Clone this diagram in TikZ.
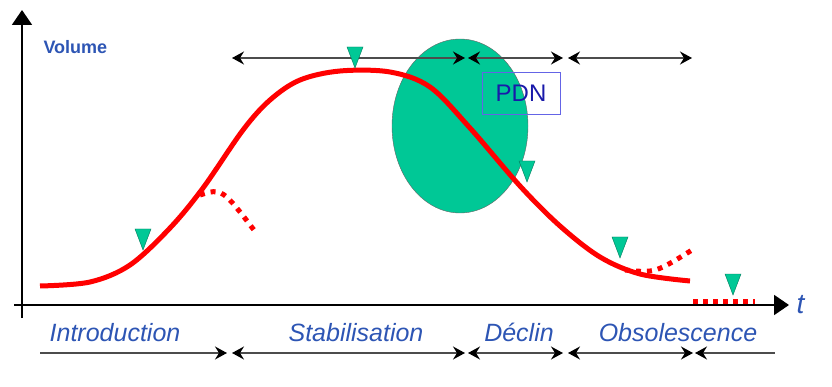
\documentclass[tikz,border=0pt]{standalone}
\usepackage{fontspec}
\setmainfont{Liberation Sans}
\usetikzlibrary{arrows.meta, shapes.geometric}
\definecolor{pgreen}{RGB}{0,200,150}
\definecolor{lblue}{RGB}{45,85,180}
\definecolor{pdnblue}{RGB}{25,25,170}
\definecolor{boxblue}{RGB}{100,100,230}

\begin{document}
\begin{tikzpicture}[x=1pt, y=-1pt,
  >={Stealth[length=12pt,width=13pt,inset=4pt,black]},
  phase/.style={line width=1.4pt, black!70},
  axis/.style={line width=2pt, -{Triangle[length=15pt,width=20pt]}},
  lbl/.style={anchor=base, text=lblue, font=\fontsize{25}{30}\selectfont\itshape},
  trend/.style={red, line width=5pt},
  branch/.style={red, line width=5pt, dash pattern=on 5pt off 6pt}]
  \useasboundingbox (0,0) rectangle (832,387);

  % zone PDN
  \node[ellipse, draw=black!60, thin, fill=pgreen, minimum width=136pt,
    minimum height=174pt] (zone) at (460,126) {};

  % axes
  \coordinate (o) at (22,305);
  \coordinate (ybot) at (22,318);
  \coordinate (ytop) at (22,10);
  \coordinate (xleft) at (14,305);
  \coordinate (xright) at (789,305);
  \draw[axis] (ybot) -- (ytop);
  \draw[axis] (xleft) -- (xright);
  \node[anchor=base west, text=lblue, font=\fontsize{18}{22}\selectfont\bfseries]
    (vol) at (40,54) {Volume};
  \node[anchor=base west, text=lblue, font=\fontsize{28}{32}\selectfont\itshape]
    (t) at (793,313) {t};

  % phases en haut
  \foreach \n/\x in {t1/232,t2/465,t3/468,t4/563,t5/568,t6/692}
    \coordinate (\n) at (\x,58);
  \draw[phase, <->] (t1) -- (t2);
  \draw[phase, <->] (t3) -- (t4);
  \draw[phase, <->] (t5) -- (t6);

  % phases en bas
  \foreach \n/\x in {b0/40,b1/227,b2/232,b3/465,b4/468,b5/563,b6/568,b7/693,b8/695,b9/775}
    \coordinate (\n) at (\x,353);
  \draw[phase, ->] (b0) -- (b1);
  \draw[phase, <->] (b2) -- (b3);
  \draw[phase, <->] (b4) -- (b5);
  \draw[phase, <->] (b6) -- (b7);
  \draw[phase, <-] (b8) -- (b9);

  \node[lbl] (intro) at (115,341) {Introduction};
  \node[lbl] (stab) at (356,341) {Stabilisation};
  \node[lbl] (decl) at (519,341) {Déclin};
  \node[lbl] (obso) at (678,341) {Obsolescence};

  % courbe de vie
  \draw[trend, line join=round] plot[smooth, tension=0.55] coordinates {
    (40,286) (90,282) (130,265) (170,228) (203,188) (243,130) (270,100)
    (300,80) (340,71) (390,72) (430,87) (470,128) (520,186)
    (560,226) (600,257) (640,274) (690,281)};
  \draw[branch] (200,195) .. controls (222,188) .. (257,234);
  \draw[branch] (625,270) .. controls (655,273) .. (692,250);
  \draw[branch, dash pattern=on 5pt off 5pt] (693,301) -- (755,301);

  \node[draw=boxblue, thin, minimum width=78pt, minimum height=42pt, text=pdnblue,
    font=\fontsize{24}{28}\selectfont] (pdn) at (521,93) {PDN};

  % jalons
  \foreach \x/\y in {143/250, 355/68, 527/182, 620/258, 733/295}
    \filldraw[fill=pgreen, draw=pgreen!60!black, thin]
      (\x,\y) -- ++(-8,-21) -- ++(16,0) -- cycle;
\end{tikzpicture}
\end{document}
